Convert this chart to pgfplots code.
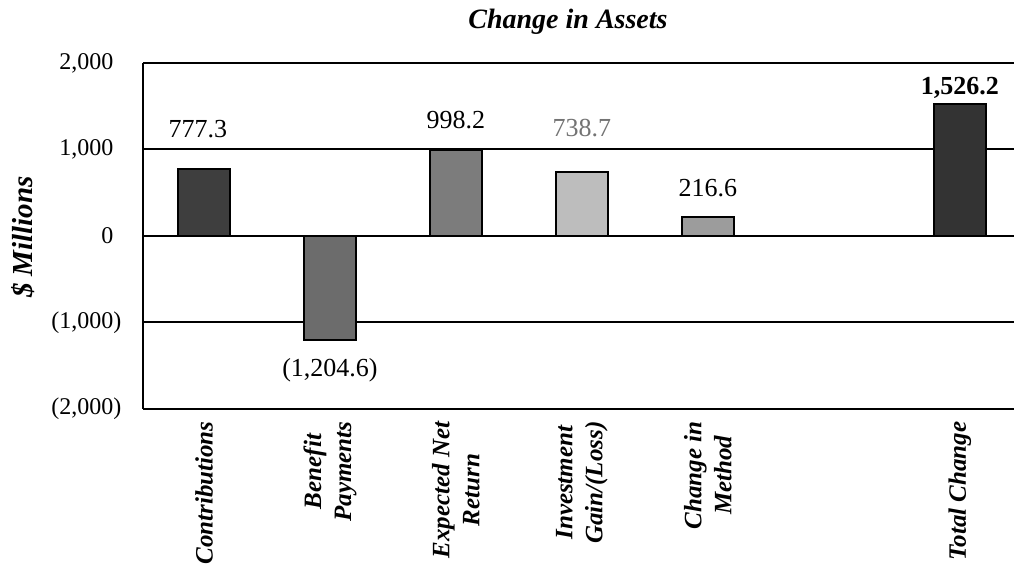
\documentclass[border=0pt]{standalone}
\usepackage{pgfplots}
\pgfplotsset{compat=1.18}
\usepackage{fontspec}
\setmainfont{Liberation Serif}
\definecolor{cContrib}{HTML}{3E3E3E}
\definecolor{cBenefit}{HTML}{6C6C6C}
\definecolor{cExpected}{HTML}{7C7C7C}
\definecolor{cInvest}{HTML}{BDBDBD}
\definecolor{cMethod}{HTML}{9C9C9C}
\definecolor{cTotal}{HTML}{333333}
\newcommand\vf{\fontsize{26}{30}\selectfont}
\pgfplotsset{lbl/.style 2 args={nodes near coords={#1},
  every node near coord/.append style={anchor=center, font=\vf, #2}}}
\begin{document}
\begin{tikzpicture}
\begin{axis}[
  at={(143pt,160pt)}, anchor=south west,
  scale only axis, width=871pt, height=346pt,
  xmin=-0.484, xmax=6.43, ymin=-2000, ymax=2000,
  axis x line=box, axis y line=left,
  axis line style={-, line width=2.2pt},
  ytick={-2000,-1000,0,1000,2000},
  yticklabels={{(2,000\rlap{)}},{(1,000\rlap{)}},{0},{1,000},{2,000}},
  ymajorgrids=true,
  grid style={line width=2pt, draw=black},
  every axis grid/.style={line width=2pt, draw=black},
  major tick length=0pt,
  yticklabel style={font=\fontsize{24}{28}\selectfont, anchor=east, xshift=-26pt},
  xtick={0,1,2,3,4,6},
  xticklabels={{Contributions},{Benefit\\Payments},{Expected Net\\Return},{Investment\\Gain/(Loss)},{Change in\\Method},{Total Change}},
  xticklabel style={rotate=90, anchor=east, align=center, font=\fontsize{25}{30}\selectfont\bfseries\itshape},
  xticklabel shift=9pt,
  ybar, bar width=52pt, bar shift=0pt,
  every axis plot/.append style={draw=black, line width=1.8pt},
  clip=false,
]
\addplot[fill=cContrib, lbl={777.3}{yshift=40pt, xshift=-6pt}] coordinates {(0,777.3)};
\addplot[fill=cBenefit, lbl={(1,204.6)}{yshift=-30pt}] coordinates {(1,-1204.6)};
\addplot[fill=cExpected, lbl={998.2}{yshift=30pt}] coordinates {(2,998.2)};
\addplot[fill=cInvest, lbl={738.7}{yshift=44pt, text=black!55}] coordinates {(3,738.7)};
\addplot[fill=cMethod, lbl={216.6}{yshift=29pt}] coordinates {(4,216.6)};
\addplot[fill=cTotal, lbl={\textbf{1,526.2}}{yshift=16pt}] coordinates {(6,1526.2)};
\end{axis}
\node[font=\fontsize{28}{32}\selectfont\bfseries\itshape] at (568pt,547pt) {Change in Assets};
\node[rotate=90, font=\fontsize{29}{32}\selectfont\bfseries\itshape] at (23pt,332pt) {\$ Millions};
\pgfresetboundingbox
\path[use as bounding box] (0,0) rectangle (1014pt,569pt);
\end{tikzpicture}
\end{document}
